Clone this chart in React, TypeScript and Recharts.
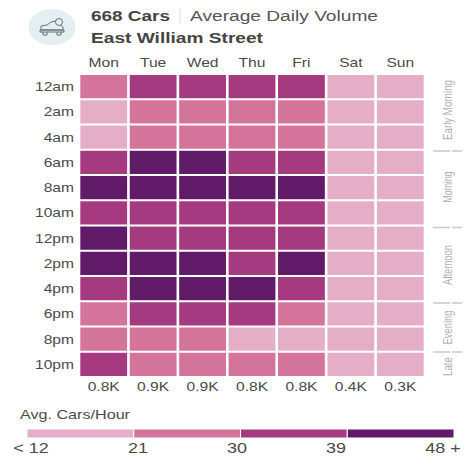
import React from "react";
import { ScatterChart, Scatter, XAxis, YAxis, BarChart, Bar } from "recharts";

const days = ["Mon", "Tue", "Wed", "Thu", "Fri", "Sat", "Sun"];
const hours = ["12am", "2am", "4am", "6am", "8am", "10am", "12pm", "2pm", "4pm", "6pm", "8pm", "10pm"];
const dailyTotals = ["0.8K", "0.9K", "0.9K", "0.8K", "0.8K", "0.4K", "0.3K"];
const monValues = [26, 17, 16, 35, 42, 36, 41, 43, 37, 27, 25, 35];
const tueValues = [35, 26, 26, 43, 42, 36, 35, 42, 43, 36, 26, 25];
const wedValues = [36, 27, 26, 43, 43, 37, 36, 42, 43, 35, 27, 26];
const thuValues = [35, 26, 26, 36, 42, 36, 35, 36, 44, 36, 18, 26];
const friValues = [36, 26, 26, 35, 43, 36, 36, 43, 36, 27, 19, 27];
const satValues = [17, 16, 15, 16, 17, 18, 18, 18, 17, 17, 18, 17];
const sunValues = [16, 15, 15, 15, 16, 17, 17, 17, 16, 16, 17, 16];
const columns = [monValues, tueValues, wedValues, thuValues, friValues, satValues, sunValues];

const binEdges = [21, 30, 39];
const binColors = ["#e4afc6", "#d5749b", "#a53a81", "#601a68"];
const legendLabels = ["< 12", "21", "30", "39", "48 +"];
const legendBins = [9, 9, 9, 9];
const periods = ["Early Morning", "Morning", "Afternoon", "Evening", "Late"];

const heatData = days.flatMap((day, d) =>
  hours.map((hour, h) => ({ day, hour, cars: columns[d][h] }))
);
const columnData = days.map((day) => ({ day, row: 0 }));
const legendData = [{ name: "bins", b0: legendBins[0], b1: legendBins[1], b2: legendBins[2], b3: legendBins[3] }];

const colorFor = (v: number) => binColors[binEdges.filter((e) => v >= e).length];
const textColor = "#4a4a4a";
const sans = "'Liberation Sans', Arial, sans-serif";

const HeatCell = (props: any) => {
  const { cx, cy, payload } = props;
  return <rect x={cx - 23.4} y={cy - 11.6} width={46.8} height={23.2} fill={colorFor(payload.cars)} />;
};

const Tick = (props: any) => {
  const { x, y, payload, anchor, fmt } = props;
  return (
    <text
      transform={`translate(${x} ${y}) scale(1.2 1)`}
      textAnchor={anchor}
      dominantBaseline="central"
      fontFamily={sans}
      fontSize={13}
      fill={textColor}
    >
      {fmt ? fmt(payload.value) : payload.value}
    </text>
  );
};

const periodCenters = [110, 187, 265, 327.5, 366.5];
const periodLengths = [60, 31, 40, 34, 19];
const separators = [151, 227.5, 303, 352];
const legendLabelX = [31, 138, 237, 336, 443];

export default function App() {
  return (
    <div style={{ position: "absolute", left: 0, top: 0, width: 465, height: 461, background: "#fff", overflow: "hidden" }}>
      <ScatterChart
        width={465}
        height={461}
        margin={{ top: 52, right: 40, bottom: 84, left: 0 }}
        style={{ position: "absolute", left: 0, top: 0 }}
      >
        <XAxis
          dataKey="day"
          type="category"
          scale="band"
          orientation="top"
          allowDuplicatedCategory={false}
          height={22}
          axisLine={false}
          tickLine={false}
          tick={false}
        />
        <YAxis
          dataKey="hour"
          type="category"
          scale="band"
          reversed
          allowDuplicatedCategory={false}
          width={79}
          axisLine={false}
          tickLine={false}
          interval={0}
          tick={(p: any) => <Tick {...p} x={74} anchor="end" />}
        />
        <Scatter data={heatData} shape={<HeatCell />} isAnimationActive={false} />
      </ScatterChart>

      {/* The labels of the columns: the day above, the daily total below */}
      <ScatterChart
        width={465}
        height={461}
        margin={{ top: 52, right: 40, bottom: 54, left: 79 }}
        style={{ position: "absolute", left: 0, top: 0, pointerEvents: "none" }}
      >
        <XAxis
          xAxisId="top"
          type="category"
          dataKey="day"
          scale="band"
          orientation="top"
          allowDuplicatedCategory={false}
          height={22}
          axisLine={false}
          tickLine={false}
          interval={0}
          tick={(p: any) => <Tick {...p} y={62} anchor="middle" />}
        />
        <XAxis
          xAxisId="bottom"
          type="category"
          dataKey="day"
          scale="band"
          orientation="bottom"
          allowDuplicatedCategory={false}
          height={30}
          axisLine={false}
          tickLine={false}
          interval={0}
          tick={(p: any) => (
            <Tick {...p} y={386.5} anchor="middle" fmt={(v: string) => dailyTotals[days.indexOf(v)]} />
          )}
        />
        <YAxis type="number" dataKey="row" hide />
        <Scatter data={columnData} xAxisId="top" shape={() => <g />} isAnimationActive={false} />
        <Scatter data={columnData} xAxisId="bottom" shape={() => <g />} isAnimationActive={false} />
      </ScatterChart>

      <div style={{ position: "absolute", left: 27, top: 429 }}>
        <BarChart
          width={427}
          height={9}
          data={legendData}
          layout="vertical"
          margin={{ top: 0, right: 0, bottom: 0, left: 0 }}
          barCategoryGap={0}
        >
          <XAxis type="number" hide domain={[0, 36]} />
          <YAxis type="category" dataKey="name" hide />
          {binColors.map((c, i) => (
            <Bar
              key={c}
              dataKey={`b${i}`}
              stackId="legend"
              fill={c}
              stroke="#fff"
              strokeWidth={1}
              isAnimationActive={false}
            />
          ))}
        </BarChart>
      </div>

      <svg width={465} height={461} style={{ position: "absolute", left: 0, top: 0, pointerEvents: "none" }}>
        <ellipse cx={52} cy={27} rx={23.5} ry={18} fill="#e3eff0" />
        <g fill="none" stroke="#5c6468" strokeWidth={0.9} strokeLinejoin="round">
          <path d="M41 29 L41 26 L47 25 L51 22 L56 21 L60 25 L63 27 L63 30 L41 30 Z" />
          <path d="M40 30 L64 30 L64 32 L40 32 Z" />
          <path d="M43 32 L43 35 L47 35 L47 32 M57 32 L57 35 L61 35 L61 32" />
          <circle cx={59} cy={22} r={3.5} fill="#e3eff0" />
        </g>
        <text x={91} y={21} fontFamily={sans} fontSize={15.5} fontWeight="bold" fill="#444" textLength={79} lengthAdjust="spacingAndGlyphs">668 Cars</text>
        <line x1={180} y1={8} x2={180} y2={24} stroke="#ddd" strokeWidth={1} />
        <text x={190} y={21} fontFamily={sans} fontSize={15.5} fill="#555" textLength={188} lengthAdjust="spacingAndGlyphs">Average Daily Volume</text>
        <text x={91} y={43} fontFamily={sans} fontSize={15.5} fontWeight="bold" fill="#444" textLength={172} lengthAdjust="spacingAndGlyphs">East William Street</text>

        {periods.map((p, i) => (
          <text
            key={p}
            transform={`translate(447.5 ${periodCenters[i] + periodLengths[i] / 2}) rotate(-90)`}
            textAnchor="start"
            dominantBaseline="central"
            fontFamily={sans}
            fontSize={13}
            fill="#b0b0b0"
            textLength={periodLengths[i]}
            lengthAdjust="spacingAndGlyphs"
          >
            {p}
          </text>
        ))}
        {separators.map((y) => (
          <g key={y}>
            <line x1={433} y1={y} x2={450} y2={y} stroke="#c8c8c8" strokeWidth={1.5} />
            <line x1={452} y1={y} x2={462} y2={y} stroke="#c8c8c8" strokeWidth={1.5} />
          </g>
        ))}

        <text x={20} y={418.5} fontFamily={sans} fontSize={13} fill={textColor} textLength={110} lengthAdjust="spacingAndGlyphs">Avg. Cars/Hour</text>
        {legendLabels.map((l, i) => (
          <text
            key={l}
            transform={`translate(${legendLabelX[i]} 453) scale(1.24 1)`}
            textAnchor="middle"
            fontFamily={sans}
            fontSize={14.5}
            fill={textColor}
          >
            {l}
          </text>
        ))}
      </svg>
    </div>
  );
}
